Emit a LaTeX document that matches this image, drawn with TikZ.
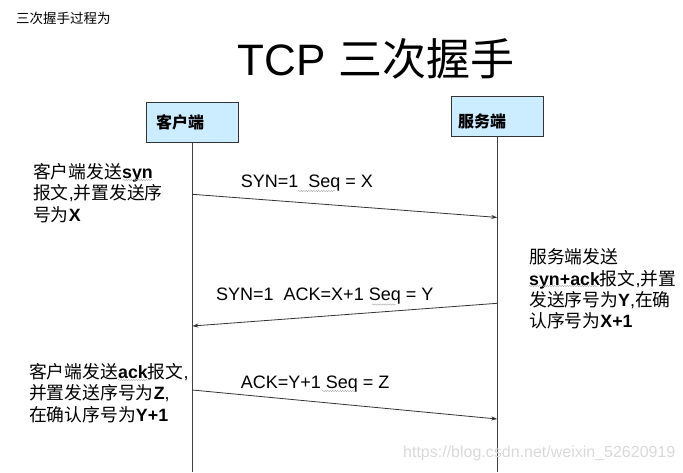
\documentclass[tikz,border=0pt]{standalone}
\usepackage{fontspec}
\setmainfont{Liberation Sans}
\newfontfamily\cjk{Noto Sans CJK SC}
\usetikzlibrary{arrows.meta,decorations.pathmorphing}
\definecolor{boxblue}{RGB}{204,236,255}
\newcommand{\zh}[1]{{\cjk #1}}
\tikzset{
  endbox/.style={draw=black!80, fill=boxblue, minimum width=92pt, minimum height=40pt, inner sep=0pt, line width=0.8pt},
  boxlabel/.style={font=\cjk\bfseries\fontsize{16}{18}\selectfont, inner sep=0pt, anchor=west},
  life/.style={draw=black!75, line width=1.3pt},
  msg/.style={draw=black!80, line width=0.8pt, -{Stealth[length=6pt,width=4pt]}},
  msglabel/.style={font=\fontsize{18}{21}\selectfont, inner sep=0pt, anchor=base west},
  note/.style={font=\fontsize{17.8}{21.3}\selectfont, align=left, inner sep=0pt, anchor=west},
  squiggle/.style={draw=gray!70, line width=0.4pt, decorate, decoration={snake, amplitude=0.7pt, segment length=2.5pt}},
}
\begin{document}
\begin{tikzpicture}[x=1pt, y=-1pt]
  \useasboundingbox (0,0) rectangle (683,472);
  % \draw[help lines, gray!50, very thin] (0,0) grid[step=50] (683,472);

  \node[inner sep=0pt, anchor=west, font=\fontsize{13.5}{16}\selectfont] (caption) at (16,18) {\zh{三次握手过程为}};
  \node[inner sep=0pt, anchor=base, font=\fontsize{44}{50}\selectfont] (title) at (376,75.7) {TCP \zh{三次握手}};

  % the two ends
  \node[endbox] (cli) at (192.3,122.3) {};
  \node[boxlabel] (clitxt) at ([xshift=10pt]cli.west) {客户端};
  \node[endbox] (srv) at (497.2,116.7) {};
  \node[boxlabel] (srvtxt) at ([xshift=7pt,yshift=-5pt]srv.west) {服务端};

  \coordinate (clibot) at (cli.south |- 0,472);
  \coordinate (srvbot) at (srv.south |- 0,472);
  \draw[life] (cli.south) -- (clibot);
  \draw[life] (srv.south) -- (srvbot);

  % messages
  \coordinate (syn0) at (cli.south |- 0,194.3);
  \coordinate (syn1) at (srv.south |- 0,217.4);
  \coordinate (sa0) at (srv.south |- 0,303.3);
  \coordinate (sa1) at (cli.south |- 0,326);
  \coordinate (ack0) at (cli.south |- 0,390);
  \coordinate (ack1) at (srv.south |- 0,419);
  \draw[msg] (syn0) -- (syn1);
  \draw[msg] (sa0) -- (sa1);
  \draw[msg] (ack0) -- (ack1);

  \node[msglabel] (lab1) at (240.7,187) {SYN=1~ Seq = X};
  \node[msglabel] (lab2) at (216,300.5) {SYN=1~ ACK=X+1 Seq = Y};
  \node[msglabel] (lab3) at (240.7,388.5) {ACK=Y+1 Seq = Z};

  % notes beside the lifelines
  \node[note] (note1) at (33,193) {\zh{客户端发送}\textbf{syn}\\\zh{报文},\zh{并置发送序}\\\zh{号为}\textbf{X}};
  \node[note] (note2) at (529,289) {\zh{服务端发送}\\\textbf{syn+ack}\zh{报文},\zh{并置}\\\zh{发送序号为}\textbf{Y},\zh{在确}\\\zh{认序号为}\textbf{X+1}};
  \node[note] (note3) at (29,393) {\zh{客户端发送}\textbf{ack}\zh{报文},\\\zh{并置发送序号为}\textbf{Z},\\\zh{在确认序号为}\textbf{Y+1}};

  % spell-check marks
  \draw[squiggle] (298,191) -- (335,191);
  \draw[squiggle] (372,304.5) -- (396,304.5);
  \draw[squiggle] (322,391) -- (356,391);
  \draw[squiggle] (123,180) -- (153,180);
  \draw[squiggle] (529,286) -- (598,286);
  \draw[squiggle] (118,380) -- (148,380);

  \node[inner sep=0pt, anchor=west, text=gray!30, font=\fontsize{16}{18}\selectfont] (mark) at (403,453.3) {https://blog.csdn.net/weixin\_52620919};
\end{tikzpicture}
\end{document}
